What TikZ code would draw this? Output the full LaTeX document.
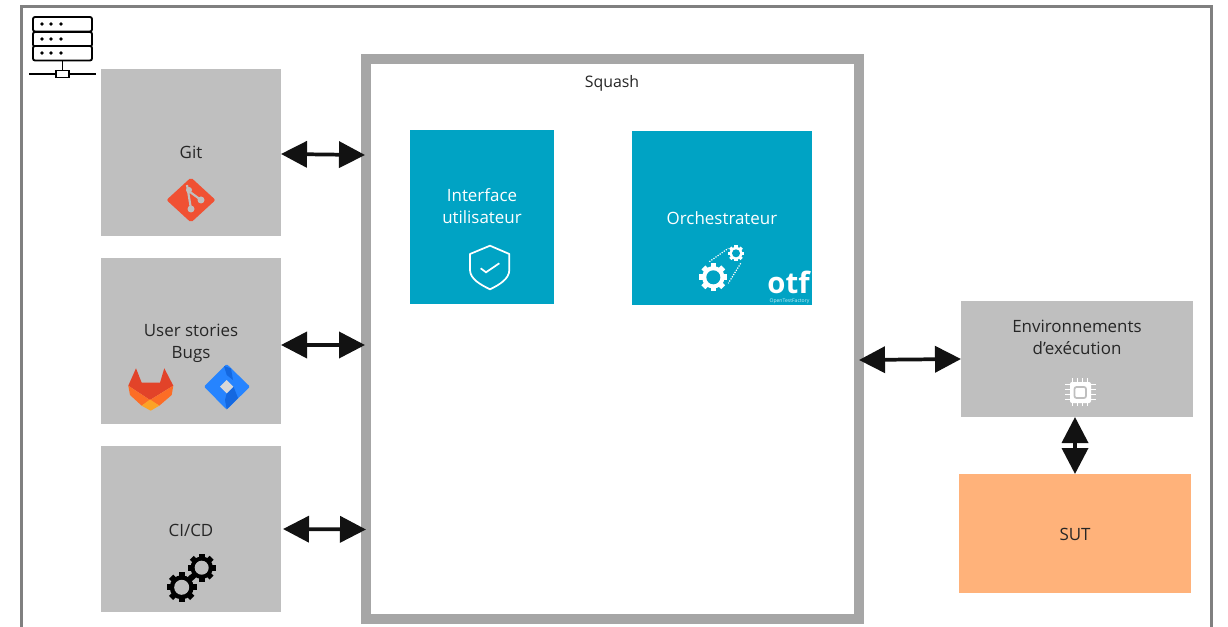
\documentclass[tikz,border=0pt]{standalone}
\usepackage{fontspec}
\setmainfont{Open Sans}
\usepackage{tikz}
\usetikzlibrary{arrows.meta}
\definecolor{boxgrey}{HTML}{BFBFBF}
\definecolor{framegrey}{HTML}{A6A6A6}
\definecolor{teal}{HTML}{00A3C4}
\definecolor{sutorange}{HTML}{FFB27A}
\definecolor{gitred}{HTML}{F05133}
\definecolor{labdark}{HTML}{E24329}
\definecolor{labmid}{HTML}{FC6D26}
\definecolor{lablight}{HTML}{FCA326}
\definecolor{jirablue}{HTML}{2684FF}
\definecolor{jiradark}{HTML}{1468E0}
\tikzset{every node/.style={font=\fontsize{12.7}{16.5}\selectfont,text=black!85,align=center,inner sep=0pt,outer sep=0pt}}
\tikzset{pxsize/.style 2 args={minimum width=#1*0.75pt,minimum height=#2*0.75pt}}
\tikzset{greybox/.style={fill=boxgrey},tealbox/.style={fill=teal}}
\tikzset{biarrow/.style={{Triangle[length=19.5pt,width=19.5pt]}-{Triangle[length=19.5pt,width=19.5pt]},line width=2.8pt,black!93}}
% #1 colour, #2 hole colour, #3 centre, #4 radius
\newcommand{\gearicon}[4]{
    \foreach \a in {0,45,...,315}
        \draw[#1,line width=#4*0.3pt] (#3)+(\a:#4*0.68) -- +(\a:#4);
    \fill[#1] (#3) circle (#4*0.8);
    \fill[#2] (#3) circle (#4*0.5);
}

\begin{document}
\begin{tikzpicture}[x=0.75pt,y=-0.75pt]
    \useasboundingbox (0,0) rectangle (1228,627);
    \draw[gray,line width=2.25pt] (21,640) -- (21,7) -- (1211,7) -- (1211,640);

    % server icon
    \foreach \y in {17,32,46}
        \draw[black,line width=1.4pt,rounded corners=1.5pt,fill=white] (33,\y) rectangle (92,\y+14.5);
    \foreach \y in {24,39,53}
        \foreach \x in {42,51,61}
            \fill[black] (\x,\y) circle (1.8);
    \draw[black,line width=1.4pt] (62.5,61) -- (62.5,70);
    \draw[black,line width=1.4pt] (29,74) -- (96,74);
    \draw[black,line width=1.2pt,fill=white] (56,70.5) rectangle (69,77.5);

    % boxes
    \node[greybox,pxsize={180}{167}] (git) at (191,152.5) {};
    \node (gittxt) at (191,152.5) {Git};
    \node[greybox,pxsize={180}{166}] (stories) at (191,341) {};
    \node (storiestxt) at (191,343.5) {User stories\\Bugs};
    \node[greybox,pxsize={180}{166}] (cicd) at (191,529) {};
    \node (cicdtxt) at (191,530) {CI/CD};
    \node[draw=framegrey,line width=7.5pt,fill=white,pxsize={493}{560}] (squash) at (612.5,339) {};
    \node[font=\fontsize{11.9}{16.5}\selectfont] (squashtxt) at (612,83.5) {Squash};
    \node[tealbox,pxsize={144}{174}] (ui) at (482,217) {};
    \node[text=white] (uitxt) at (482,206.5) {Interface\\utilisateur};
    \node[tealbox,pxsize={180}{174}] (orch) at (722,218) {};
    \node[text=white] (orchtxt) at (722,218) {Orchestrateur};
    \node[greybox,pxsize={232}{116}] (env) at (1077,359) {};
    \node (envtxt) at (1077,337.5) {Environnements\\d’exécution};
    \node[fill=sutorange,pxsize={232}{119}] (sut) at (1075,533.5) {};
    \node (suttxt) at (1075,534) {SUT};

    % git icon
    \fill[gitred,rounded corners=1.5pt] (191,177.5) -- (215.5,200) -- (191,222.5) -- (166.5,200) -- cycle;
    \draw[boxgrey,line width=1.6pt] (187,185) -- (191,209) (190,192) -- (201,200);
    \fill[boxgrey] (191,209) circle (3.5) (201,200) circle (3.5) (189,190) circle (3);

    % gitlab icon
    \fill[labdark] (136,368.3) -- (141.7,382.7) -- (160,382.7) -- (164.3,368.3) -- (173.3,385.7) -- (150,400) -- (128.3,385.7) -- cycle;
    \fill[labmid] (128.3,385.7) -- (150,400) -- (141.7,405.7) -- (130,395) -- cycle;
    \fill[labmid] (173.3,385.7) -- (150,400) -- (159.3,405.7) -- (171.7,395) -- cycle;
    \fill[lablight] (150,399.5) -- (159.3,405.7) -- (150.7,410.7) -- (141.7,405.7) -- cycle;

    % jira icon
    \fill[jirablue,rounded corners=1pt] (226.7,364) -- (250,386.7) -- (226.7,409.5) -- (204,386.7) -- cycle;
    \fill[jiradark] (226.7,409.5) -- (238,398) -- (233.5,386.7) -- (226.7,393.4) -- (225,400) -- cycle;
    \fill[jiradark] (224,366) -- (231,368.5) -- (233,380) -- (226.7,375) -- cycle;
    \fill[boxgrey!60!white] (226.7,380) -- (233.4,386.7) -- (226.7,393.4) -- (220,386.7) -- cycle;

    % ci/cd gears
    \gearicon{black}{boxgrey}{181.7,587.3}{15}
    \gearicon{black}{boxgrey}{201.7,567.7}{14}

    % shield icon
    \draw[white,line width=1.3pt,line join=round] (490,245.7) -- (509.3,254) -- (509.3,270) .. controls (509.3,279) and (499,285) .. (490,289.3) .. controls (481,285) and (470,279) .. (470,270) -- (470,254) -- cycle;
    \draw[white,line width=1.3pt] (480.7,268.3) -- (486,272.3) -- (499.3,263.3);

    % orchestrator icon
    \gearicon{white}{teal}{713.3,277.3}{14}
    \gearicon{white}{teal}{736,253.3}{8}
    \draw[white,line width=0.9pt,densely dotted] (709.3,261.7) -- (728.3,248.3) (740.7,263.3) -- (728.3,283.3);
    \node[anchor=base,text=white,font=\fontsize{22}{22}\bfseries\selectfont] (otf) at (788.5,294) {otf};
    \node[anchor=north,text=white!80!teal,font=\fontsize{3.8}{4}\selectfont] (otftxt) at (789.5,298.5) {OpenTestFactory};

    % chip icon
    \foreach \d in {-8,-3,2,7}{
        \draw[white,line width=0.8pt] (1080+\d+.5,378) -- (1080+\d+.5,406);
        \draw[white,line width=0.8pt] (1065,392.3+\d) -- (1096,392.3+\d);
    }
    \fill[white,rounded corners=1.5pt] (1070,382) rectangle (1091,403);
    \draw[boxgrey,line width=1.3pt,rounded corners=1.5pt] (1074.5,387) rectangle (1086,398);

    % connectors
    \coordinate (sqgit) at (365,155);
    \coordinate (sqstories) at (365,345);
    \coordinate (sqcicd) at (366,529.5);
    \coordinate (sqenv) at (859,360);
    \draw[biarrow] ([yshift=-1.1pt]git.east) -- (sqgit);
    \draw[biarrow] ([yshift=-3pt]stories.east) -- (sqstories);
    \draw[biarrow] ([xshift=1.5pt]cicd.east) -- (sqcicd);
    \draw[biarrow] (sqenv) -- (env.west);
    \draw[biarrow] (sut.north |- env.south) -- (sut.north);
\end{tikzpicture}
\end{document}
